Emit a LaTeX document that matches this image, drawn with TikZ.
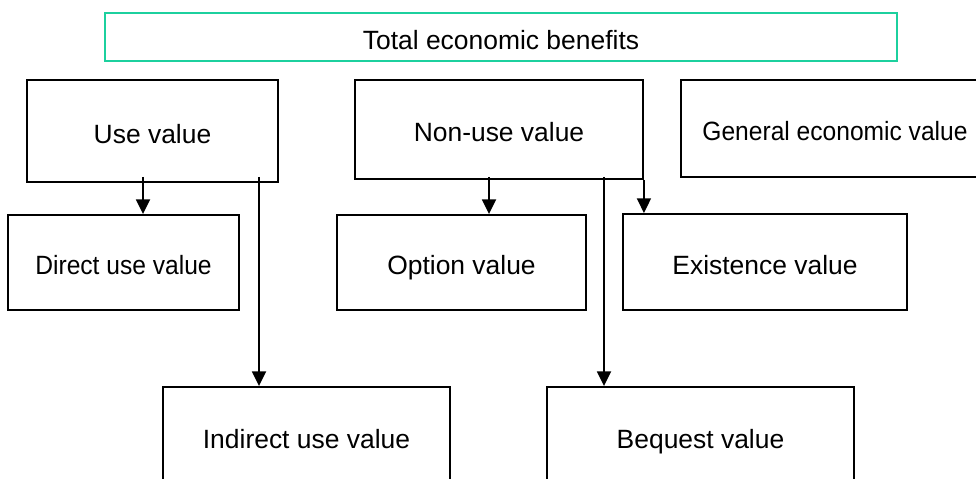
\documentclass[tikz,border=0pt]{standalone}
\usepackage{fontspec}
\setmainfont{Liberation Sans}
\newfontfamily\narrowsf[FakeStretch=0.93]{Liberation Sans}
\usepackage{tikz}
\usetikzlibrary{arrows.meta}
\usetikzlibrary{calc}
\definecolor{teal1}{RGB}{28,208,158}

\begin{document}
\begin{tikzpicture}[x=0.025cm, y=-0.025cm,
    font=\fontsize{18.8}{22}\selectfont,
    box/.style={draw=black, line width=1.3pt, inner sep=0pt, align=center,
      text height=21.5pt, text depth=3.8pt},
    narrow/.style={font=\fontsize{18.8}{22}\narrowsf},
    >={Triangle[length=0.37cm, width=0.35cm]}]
    \useasboundingbox (0,0) rectangle (976,479);
    \clip (0,0) rectangle (976,479);
    \node[box, draw=teal1, line width=1.6pt, minimum width=19.8cm, minimum height=1.2cm] (T) at (501,37) {Total economic benefits};
    \node[box, minimum width=6.275cm, minimum height=2.55cm] (U) at (152.5,131) {Use value};
    \node[box, minimum width=7.2cm, minimum height=2.475cm] (N) at (499,129.5) {Non-use value};
    \node[box, narrow, minimum width=7.7cm, minimum height=2.425cm] (G) at (835,128.5) {General economic value};
    \node[box, narrow, minimum width=5.775cm, minimum height=2.375cm] (D) at (123.5,262.5) {Direct use value};
    \node[box, minimum width=6.225cm, minimum height=2.375cm] (O) at (461.5,262.5) {Option value};
    \node[box, minimum width=7.1cm, minimum height=2.4cm] (E) at (765,262) {Existence value};
    \node[box, minimum width=7.175cm, minimum height=2.45cm] (I) at (306.5,436) {Indirect use value};
    \node[box, minimum width=7.675cm, minimum height=2.45cm] (B) at (700.5,436) {Bequest value};
    \coordinate (u1) at (143,177);
    \coordinate (u2) at (259,177);
    \coordinate (n1) at (489,177);
    \coordinate (n2) at (604,177);
    \path [->, line width=1.3pt] (u1) edge (u1 |- D.north);
    \path [->, line width=1.3pt] (u2) edge (u2 |- I.north);
    \path [->, line width=1.3pt] (n1) edge (n1 |- O.north);
    \path [->, line width=1.3pt] (n2) edge (n2 |- B.north);
    \path [->, line width=1.3pt] (N.south east) edge (N.south east |- E.north);
  \end{tikzpicture}
\end{document}
